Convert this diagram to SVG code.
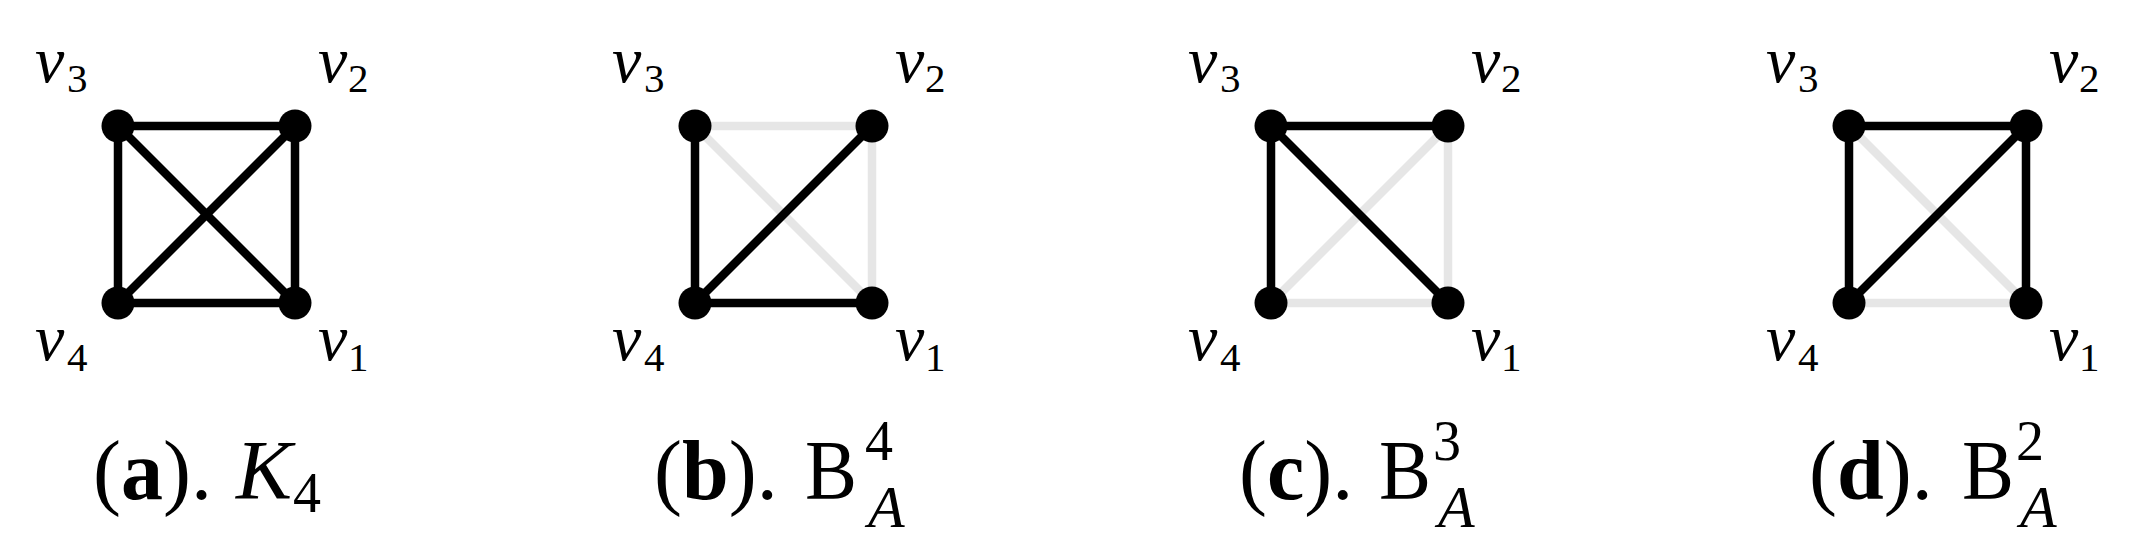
<svg xmlns="http://www.w3.org/2000/svg" width="2142" height="555" viewBox="0 0 2142 555">
<style>
.bg{fill:#ffffff}
.e{stroke:#000000;stroke-width:8.5;fill:none}
.g{stroke:#e6e6e6;stroke-width:8.5;fill:none}
.n{fill:#000000}
.lv{font-family:"Liberation Serif","Times New Roman",serif;font-style:italic;font-size:66px;fill:#000}
.ls{font-family:"Liberation Serif","Times New Roman",serif;font-size:41px;fill:#000}
.cap{font-family:"Liberation Serif","Times New Roman",serif;font-size:84px;fill:#000}
.capb{font-weight:bold}
.capi{font-family:"Liberation Serif","Times New Roman",serif;font-style:italic;font-size:84px;fill:#000}
.sc{font-family:"Liberation Serif","Times New Roman",serif;font-size:56px;fill:#000}
.sci{font-family:"Liberation Serif","Times New Roman",serif;font-style:italic;font-size:60px;fill:#000}
</style>
<rect class="bg" x="0" y="0" width="2142" height="555"/>
<g id="connectors">
  <!-- panel a -->
  <line class="e" x1="118" y1="126" x2="295" y2="126"/>
  <line class="e" x1="118" y1="126" x2="118" y2="303"/>
  <line class="e" x1="118" y1="303" x2="295" y2="303"/>
  <line class="e" x1="295" y1="126" x2="295" y2="303"/>
  <line class="e" x1="118" y1="126" x2="295" y2="303"/>
  <line class="e" x1="118" y1="303" x2="295" y2="126"/>
  <!-- panel b -->
  <line class="g" x1="695" y1="126" x2="872" y2="126"/>
  <line class="g" x1="695" y1="126" x2="872" y2="303"/>
  <line class="g" x1="872" y1="126" x2="872" y2="303"/>
  <line class="e" x1="695" y1="126" x2="695" y2="303"/>
  <line class="e" x1="695" y1="303" x2="872" y2="126"/>
  <line class="e" x1="695" y1="303" x2="872" y2="303"/>
  <!-- panel c -->
  <line class="g" x1="1448" y1="126" x2="1448" y2="303"/>
  <line class="g" x1="1271" y1="303" x2="1448" y2="126"/>
  <line class="g" x1="1271" y1="303" x2="1448" y2="303"/>
  <line class="e" x1="1271" y1="126" x2="1448" y2="126"/>
  <line class="e" x1="1271" y1="126" x2="1271" y2="303"/>
  <line class="e" x1="1271" y1="126" x2="1448" y2="303"/>
  <!-- panel d -->
  <line class="g" x1="1849" y1="126" x2="2026" y2="303"/>
  <line class="g" x1="1849" y1="303" x2="2026" y2="303"/>
  <line class="e" x1="1849" y1="126" x2="2026" y2="126"/>
  <line class="e" x1="1849" y1="126" x2="1849" y2="303"/>
  <line class="e" x1="1849" y1="303" x2="2026" y2="126"/>
  <line class="e" x1="2026" y1="126" x2="2026" y2="303"/>
</g>

<!-- panel a nodes -->
<g id="a-v3"><circle class="n" cx="118" cy="126" r="16.5"/><text class="lv" x="35" y="82">v</text><text class="ls" x="67" y="92">3</text></g>
<g id="a-v2"><circle class="n" cx="295" cy="126" r="16.5"/><text class="lv" x="318" y="82">v</text><text class="ls" x="348" y="92">2</text></g>
<g id="a-v4"><circle class="n" cx="118" cy="303" r="16.5"/><text class="lv" x="35" y="360">v</text><text class="ls" x="67" y="371">4</text></g>
<g id="a-v1"><circle class="n" cx="295" cy="303" r="16.5"/><text class="lv" x="318" y="360">v</text><text class="ls" x="348" y="371">1</text></g>

<!-- panel b nodes -->
<g id="b-v3"><circle class="n" cx="695" cy="126" r="16.5"/><text class="lv" x="612" y="82">v</text><text class="ls" x="644" y="92">3</text></g>
<g id="b-v2"><circle class="n" cx="872" cy="126" r="16.5"/><text class="lv" x="895" y="82">v</text><text class="ls" x="925" y="92">2</text></g>
<g id="b-v4"><circle class="n" cx="695" cy="303" r="16.5"/><text class="lv" x="612" y="360">v</text><text class="ls" x="644" y="371">4</text></g>
<g id="b-v1"><circle class="n" cx="872" cy="303" r="16.5"/><text class="lv" x="895" y="360">v</text><text class="ls" x="925" y="371">1</text></g>

<!-- panel c nodes -->
<g id="c-v3"><circle class="n" cx="1271" cy="126" r="16.5"/><text class="lv" x="1188" y="82">v</text><text class="ls" x="1220" y="92">3</text></g>
<g id="c-v2"><circle class="n" cx="1448" cy="126" r="16.5"/><text class="lv" x="1471" y="82">v</text><text class="ls" x="1501" y="92">2</text></g>
<g id="c-v4"><circle class="n" cx="1271" cy="303" r="16.5"/><text class="lv" x="1188" y="360">v</text><text class="ls" x="1220" y="371">4</text></g>
<g id="c-v1"><circle class="n" cx="1448" cy="303" r="16.5"/><text class="lv" x="1471" y="360">v</text><text class="ls" x="1501" y="371">1</text></g>

<!-- panel d nodes -->
<g id="d-v3"><circle class="n" cx="1849" cy="126" r="16.5"/><text class="lv" x="1766" y="82">v</text><text class="ls" x="1798" y="92">3</text></g>
<g id="d-v2"><circle class="n" cx="2026" cy="126" r="16.5"/><text class="lv" x="2049" y="82">v</text><text class="ls" x="2079" y="92">2</text></g>
<g id="d-v4"><circle class="n" cx="1849" cy="303" r="16.5"/><text class="lv" x="1766" y="360">v</text><text class="ls" x="1798" y="371">4</text></g>
<g id="d-v1"><circle class="n" cx="2026" cy="303" r="16.5"/><text class="lv" x="2049" y="360">v</text><text class="ls" x="2079" y="371">1</text></g>

<!-- captions -->
<g id="caption-a">
  <text class="cap" x="93" y="499">(<tspan class="capb">a</tspan>).</text>
  <text class="capi" x="236" y="499">K</text>
  <text class="sc" x="293" y="512">4</text>
</g>
<g id="caption-b">
  <text class="cap" x="805" y="499" textLength="52" lengthAdjust="spacingAndGlyphs">B</text>
  <text class="cap" x="654" y="499">(<tspan class="capb">b</tspan>).</text>
  <text class="sc" x="865" y="460">4</text>
  <text class="sci" x="868" y="527">A</text>
</g>
<g id="caption-c">
  <text class="cap" x="1239" y="499">(<tspan class="capb">c</tspan>).</text>
  <text class="cap" x="1379" y="499" textLength="52" lengthAdjust="spacingAndGlyphs">B</text>
  <text class="sc" x="1433" y="460">3</text>
  <text class="sci" x="1438" y="527">A</text>
</g>
<g id="caption-d">
  <text class="cap" x="1809" y="499">(<tspan class="capb">d</tspan>).</text>
  <text class="cap" x="1962" y="499" textLength="52" lengthAdjust="spacingAndGlyphs">B</text>
  <text class="sc" x="2016" y="460">2</text>
  <text class="sci" x="2020" y="527">A</text>
</g>
</svg>
